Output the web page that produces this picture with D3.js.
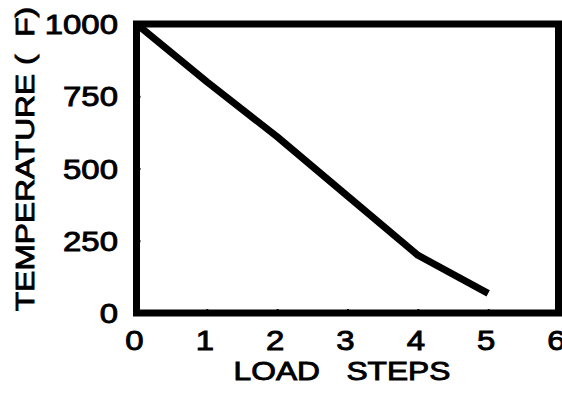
<!DOCTYPE html>
<html>
<head>
<meta charset="utf-8">
<script src="https://cdn.jsdelivr.net/npm/d3@7"></script>
<style>
  html, body { margin: 0; padding: 0; background: #fff; }
  svg { display: block; }
  text { font-family: "Liberation Sans", Arial, sans-serif; font-weight: normal; fill: #000;
         stroke: #000; stroke-width: 0.9; white-space: pre; }
</style>
</head>
<body>
<script>
// Temperature drop over the load steps
const loadSteps = [0, 1, 2, 3, 4, 5];
const temperature = [1000, 800, 610, 405, 200, 68];
const xTicks = [0, 1, 2, 3, 4, 5, 6];
const yTicks = [0, 250, 500, 750, 1000];
const xTitle = "LOAD   STEPS";
const yTitle = "TEMPERATURE (  F)";

const W = 562, H = 397;
const margin = { top: 24, right: 3.5, bottom: 84, left: 136.5 };
const stretch = 1.22;   // wide lettering

const svg = d3.select("body").append("svg")
  .attr("width", W).attr("height", H);

const x = d3.scaleLinear().domain([0, 6]).range([margin.left, W - margin.right]);
const y = d3.scaleLinear().domain([0, 1000]).range([H - margin.bottom, margin.top]);

// small inward ticks
const xAxis = svg.append("g")
  .attr("transform", `translate(0,${y(0)})`)
  .call(d3.axisBottom(x).tickValues(xTicks.slice(1, -1)).tickSize(-4).tickFormat(""));
const yAxis = svg.append("g")
  .attr("transform", `translate(${x(0)},0)`)
  .call(d3.axisLeft(y).tickValues(yTicks.slice(1, -1)).tickSize(-4).tickFormat(""));
[xAxis, yAxis].forEach(g => {
  g.select(".domain").remove();
  g.selectAll(".tick line").attr("stroke", "#000").attr("stroke-width", 2);
});

// frame
svg.append("rect")
  .attr("x", x(0)).attr("y", y(1000))
  .attr("width", x(6) - x(0)).attr("height", y(0) - y(1000))
  .attr("fill", "none").attr("stroke", "#000").attr("stroke-width", 7);

// data line
const pts = loadSteps.map((s, i) => [s, temperature[i]]);
svg.append("path")
  .datum(pts)
  .attr("d", d3.line().x(d => x(d[0])).y(d => y(d[1])))
  .attr("fill", "none").attr("stroke", "#000")
  .attr("stroke-width", 7).attr("stroke-linejoin", "round");

// tick labels
svg.append("g").selectAll("text").data(xTicks).join("text")
  .attr("transform", d => `translate(${x(d) - 2},350) scale(${stretch},1)`)
  .attr("text-anchor", "middle").attr("font-size", 27)
  .text(d => d);

svg.append("g").selectAll("text").data(yTicks).join("text")
  .attr("transform", d => `translate(118,${y(d) + 10}) scale(${stretch},1)`)
  .attr("text-anchor", "end").attr("font-size", 27)
  .text(d => d);

// axis titles
svg.append("text")
  .attr("transform", `translate(342,380) scale(${stretch},1)`)
  .attr("text-anchor", "middle").attr("font-size", 26)
  .text(xTitle);

svg.append("text")
  .attr("transform", `translate(34,159) rotate(-90) scale(${stretch},1)`)
  .attr("text-anchor", "middle").attr("font-size", 26)
  .text(yTitle);
</script>
</body>
</html>
